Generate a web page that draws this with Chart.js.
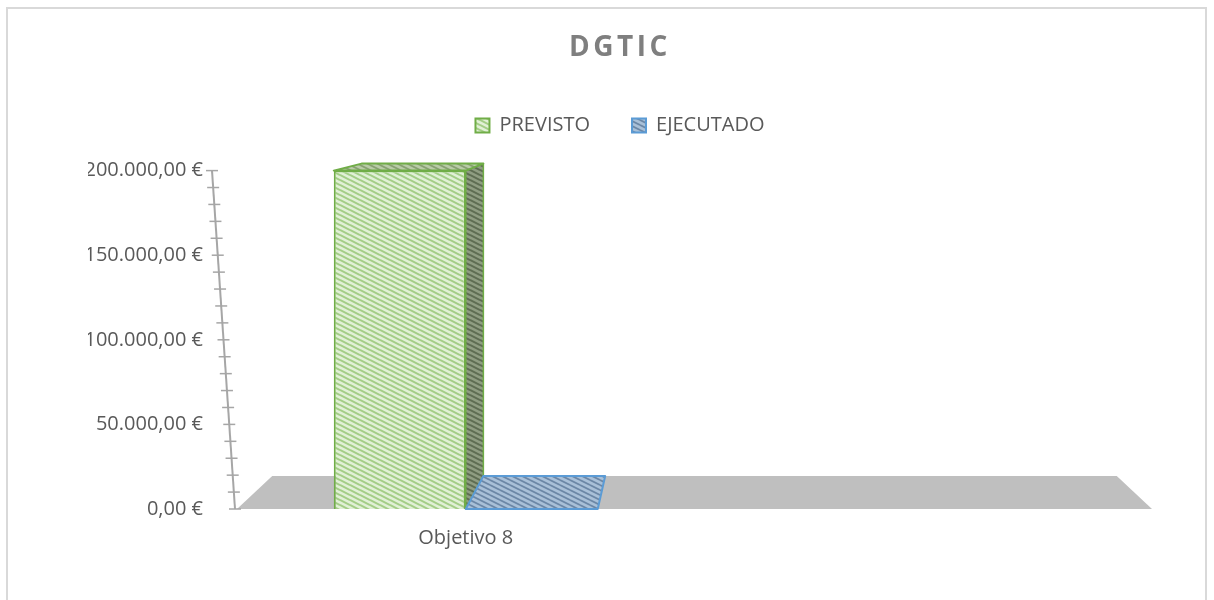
<!DOCTYPE html>
<html><head><meta charset="utf-8">
<script src="https://cdn.jsdelivr.net/npm/chart.js@4"></script>
<style>html,body{margin:0;padding:0;background:#fff}#wrap{width:1214px;height:600px;position:relative}</style>
</head><body><div id="wrap"><canvas id="c"></canvas></div>
<script>
// ---- data ----
const chartTitle = 'DGTIC';
const categories = ['Objetivo 8', ''];
const seriesNames = ['PREVISTO', 'EJECUTADO'];
const previsto = [200000, null];
const ejecutado = [0, null];
const yMin = 0;
const yMax = 200000;
const yStep = 50000;
const yMinorStep = 10000;

function euro(v){
  const parts = Number(v).toFixed(2).split('.');
  const ip = parts[0].replace(/\B(?=(\d{3})+(?!\d))/g, '.');
  return ip + ',' + parts[1] + ' €';
}

const canvas = document.getElementById('c');
const mainCtx = canvas.getContext('2d');
function stripes(base, line, lw){
  const w = 10, h = 5;
  const t = document.createElement('canvas'); t.width = w; t.height = h;
  const x = t.getContext('2d');
  x.fillStyle = base; x.fillRect(0, 0, w, h);
  x.strokeStyle = line; x.lineWidth = lw;
  for (let dx = -w; dx <= w; dx += w) for (let dy = -h; dy <= h; dy += h){
    x.beginPath(); x.moveTo(dx, dy); x.lineTo(dx + w, dy + h); x.stroke();
  }
  return mainCtx.createPattern(t, 'repeat');
}
const greenFront = stripes('#e1f0d6', '#a3cd86', 2);
const greenSide = stripes('#8f9d82', '#5e6d52', 2);
const greenTop = stripes('#b9cba8', '#87a170', 1.8);
const blueTop = stripes('#a9c0d8', '#6c87a6', 1.8);

const K = 0.923, VPY = 80;
function proj(ca, x, y){
  const vx = (ca.left + ca.right) / 2;
  return [vx + (x - vx) * K, VPY + (y - VPY) * K];
}
function poly(ctx, pts, fill, stroke, lw){
  ctx.beginPath();
  ctx.moveTo(pts[0][0], pts[0][1]);
  for (let i = 1; i < pts.length; i++) ctx.lineTo(pts[i][0], pts[i][1]);
  ctx.closePath();
  ctx.fillStyle = fill; ctx.fill();
  if (stroke){ ctx.strokeStyle = stroke; ctx.lineWidth = lw; ctx.lineJoin = 'round'; ctx.stroke(); }
}

const threeD = {
  id: 'threeD',
  beforeLayout(chart){
    const lg = chart.legend;
    if (lg && !lg._fixed){
      const origFit = lg.fit.bind(lg);
      lg.fit = function(){ origFit(); this.height = 97; };
      lg._fixed = true;
    }
  },
  beforeDraw(chart){
    const c = chart.ctx;
    c.save();
    c.strokeStyle = '#d9d9d9'; c.lineWidth = 2;
    c.strokeRect(7, 8, chart.width - 15, chart.height + 10);
    c.restore();
    const tb = chart.titleBlock;
    if (tb && !tb._spaced){
      const orig = tb.draw.bind(tb);
      tb.draw = function(){ const cx = chart.ctx; cx.save(); cx.letterSpacing = '3.5px'; orig(); cx.restore(); };
      tb._spaced = true;
    }
  },
  beforeDatasetsDraw(chart){
    const c = chart.ctx, ca = chart.chartArea, b = ca.bottom;
    c.save();
    poly(c, [[ca.left, b], [ca.right, b], proj(ca, ca.right, b), proj(ca, ca.left, b)], '#bfbfbf');
    c.restore();
  },
  afterDatasetsDraw(chart){
    const c = chart.ctx, ca = chart.chartArea;
    c.save();
    const m0 = chart.getDatasetMeta(0), m1 = chart.getDatasetMeta(1);
    m0.data.forEach((el, i) => {
      if (previsto[i] == null) return;
      const p = el.getProps(['x', 'y', 'base', 'width'], true);
      const L = p.x - p.width / 2, R = p.x + p.width / 2;
      poly(c, [[R, p.y], proj(ca, R, p.y), proj(ca, R, p.base), [R, p.base]], greenSide, '#70ad47', 1.5);
      poly(c, [[L, p.y], [R, p.y], proj(ca, R, p.y), proj(ca, L, p.y)], greenTop, '#70ad47', 2);
    });
    m1.data.forEach((el, i) => {
      if (ejecutado[i] == null) return;
      const p = el.getProps(['x', 'y', 'base', 'width'], true);
      const L = p.x - p.width / 2, R = p.x + p.width / 2;
      if (p.base - p.y > 1){
        poly(c, [[R, p.y], proj(ca, R, p.y), proj(ca, R, p.base), [R, p.base]], blueTop, '#5b9bd5', 1.5);
      }
      poly(c, [[L, p.y], [R, p.y], proj(ca, R, p.y), proj(ca, L, p.y)], blueTop, '#5b9bd5', 2);
    });
    c.restore();
  },
  afterDraw(chart){
    const c = chart.ctx, ca = chart.chartArea, ys = chart.scales.y;
    const xb = ca.left - 2, slant = 23;
    const xAt = v => xb - (v - ys.min) / (ys.max - ys.min) * slant;
    c.save();
    c.strokeStyle = '#a6a6a6'; c.lineWidth = 2;
    c.beginPath();
    c.moveTo(xAt(ys.min), ys.getPixelForValue(ys.min));
    c.lineTo(xAt(ys.max), ys.getPixelForValue(ys.max));
    c.stroke();
    c.lineWidth = 1.5;
    for (let v = ys.min; v <= ys.max + 1e-6; v += yMinorStep){
      const y = ys.getPixelForValue(v), x = xAt(v);
      c.beginPath(); c.moveTo(x - 6, y); c.lineTo(x + 6, y); c.stroke();
    }
    c.restore();
  }
};

const font = { family: '"Open Sans", sans-serif', size: 20 };
new Chart(canvas, {
  type: 'bar',
  data: {
    labels: categories,
    datasets: [
      { label: seriesNames[0], data: previsto, backgroundColor: greenFront, borderColor: '#70ad47', borderWidth: 2, barPercentage: 1, categoryPercentage: 0.577 },
      { label: seriesNames[1], data: ejecutado, backgroundColor: blueTop, borderColor: '#5b9bd5', borderWidth: 2, barPercentage: 1, categoryPercentage: 0.577 }
    ]
  },
  options: {
    responsive: true,
    maintainAspectRatio: false,
    animation: false,
    devicePixelRatio: 1,
    layout: { padding: { left: 88, right: 62, top: 0, bottom: 41 } },
    plugins: {
      tooltip: { enabled: false },
      title: {
        display: true, text: chartTitle, color: '#7f7f7f',
        font: { family: '"Open Sans", sans-serif', size: 28, weight: 'bold' },
        padding: { top: 31, bottom: 9 }
      },
      legend: {
        display: true, position: 'top', align: 'center',
        labels: { color: '#595959', font: font, boxWidth: 14, boxHeight: 14, padding: 42 }
      }
    },
    scales: {
      x: {
        grid: { display: false, drawTicks: false }, border: { display: false },
        ticks: { color: '#595959', font: font, padding: 17 },
        afterFit(s){ s.height = 50; }
      },
      y: {
        min: yMin, max: yMax,
        grid: { display: false, drawTicks: false }, border: { display: false },
        ticks: { stepSize: yStep, color: '#595959', font: font, padding: 34, callback: v => euro(v) },
        afterFit(s){ s.width = 149; }
      }
    }
  },
  plugins: [threeD]
});
</script>
</body></html>
